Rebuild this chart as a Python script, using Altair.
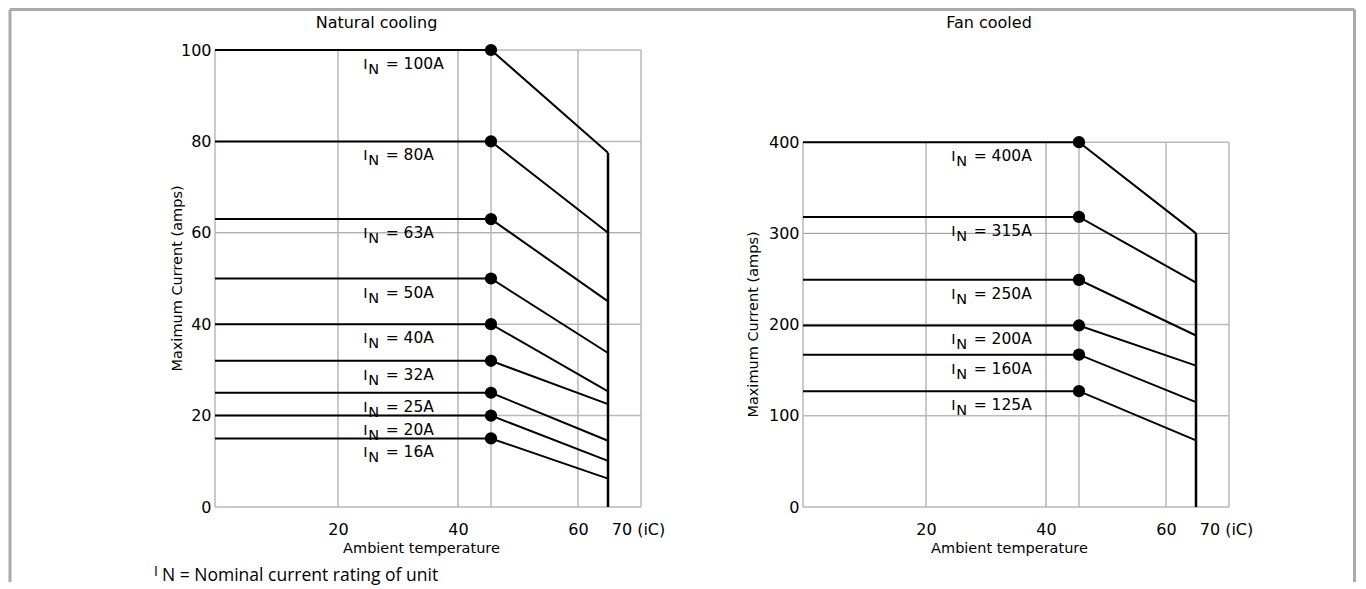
import altair as alt
import pandas as pd

# ---------------- data ----------------
nat_ratings = [100, 80, 63, 50, 40, 32, 25, 20, 16]          # I_N labels (A)
nat_levels = [100, 80, 63, 50, 40, 32, 25, 20, 15]           # plateau current
nat_at_cutoff = [77.5, 60, 45, 33.7, 25.3, 22.5, 14.5, 10.1, 6.2]

fan_ratings = [400, 315, 250, 200, 160, 125]
fan_levels = [400, 318, 249, 199, 167, 127]
fan_at_cutoff = [300, 246, 188, 155, 115, 73]

temp_start = -0.5
knee_temp = 45.5
cutoff_temp = 65
temp_max = 70.5

x_ticks = [20, 40, 60, 70]
x_grid = [20, 40, 45.5, 60]
nat_y_ticks = [0, 20, 40, 60, 80, 100]
fan_y_ticks = [0, 100, 200, 300, 400]

FONT = "DejaVu Sans"
GRID = "#b9b9b9"
GRID_DARK = "#8f8f8f"
PW, PH = 426, 457
NBSP = "\u00a0"


def panel(ratings, levels, ends, y_max, y_ticks, dark_y, title, title_x,
          ytitle_x, ytitle_y, extra=None):
    xs = alt.Scale(domain=[temp_start, temp_max], nice=False, zero=False)
    ys = alt.Scale(domain=[0, y_max], nice=False, zero=True)
    top = max(y_ticks)

    x_axis = alt.Axis(
        values=x_ticks, grid=False, domain=False, ticks=False,
        labelFlush=False, labelOverlap=False,
        labelFont=FONT, labelFontSize=16, labelColor="black", labelPadding=14,
        labelExpr="datum.value == 70 ? '" + NBSP * 9 + "70 (iC)' : datum.label",
        title="Ambient temperature", titleFont=FONT, titleFontSize=14.5,
        titleFontWeight="normal", titleColor="black",
        titleX=206, titleY=41, titleBaseline="middle", titleAlign="center",
    )
    y_axis = alt.Axis(
        values=y_ticks, grid=False, domain=False, ticks=False,
        labelOverlap=False, labelFlush=False,
        labelFont=FONT, labelFontSize=16, labelColor="black", labelPadding=4,
        title="Maximum Current (amps)", titleFont=FONT, titleFontSize=14.5,
        titleFontWeight="normal", titleColor="black", titleAngle=270,
        titleX=ytitle_x, titleY=ytitle_y, titleBaseline="middle",
        titleAlign="center",
    )

    def X():
        return alt.X("t:Q", scale=xs, axis=x_axis)

    def Y():
        return alt.Y("a:Q", scale=ys, axis=y_axis)

    rows = []
    for r, lv, e in zip(ratings, levels, ends):
        rows += [
            {"r": r, "o": 0, "t": temp_start, "a": lv},
            {"r": r, "o": 1, "t": knee_temp, "a": lv},
            {"r": r, "o": 2, "t": cutoff_temp, "a": e},
        ]
    lines_df = pd.DataFrame(rows)
    pts_df = pd.DataFrame({"t": [knee_temp] * len(levels), "a": levels,
                           "lab": [f"= {r}A" for r in ratings]})

    hgrid = pd.DataFrame({"a": [v for v in y_ticks if v not in dark_y],
                          "t": temp_start, "t1": temp_max})
    hgrid_d = pd.DataFrame({"a": dark_y, "t": temp_start, "t1": temp_max})
    vg = [v for v in x_grid if v != 40] + [temp_start, temp_max]
    vgrid = pd.DataFrame({"t": vg, "a": 0, "a1": top})
    vgrid_d = pd.DataFrame({"t": [40], "a": 0, "a1": top})

    g1 = alt.Chart(hgrid).mark_rule(color=GRID, strokeWidth=1.5).encode(
        x=X(), x2="t1:Q", y=Y())
    g2 = alt.Chart(hgrid_d).mark_rule(color=GRID_DARK, strokeWidth=1).encode(
        x=X(), x2="t1:Q", y=Y())
    g3 = alt.Chart(vgrid).mark_rule(color=GRID, strokeWidth=1.5).encode(
        x=X(), y=Y(), y2="a1:Q")
    g4 = alt.Chart(vgrid_d).mark_rule(color=GRID_DARK, strokeWidth=1).encode(
        x=X(), y=Y(), y2="a1:Q")

    lines = alt.Chart(lines_df).mark_line(color="black", strokeWidth=2).encode(
        x=X(), y=Y(), detail="r:N", order="o:Q")

    drop = alt.Chart(pd.DataFrame({"t": [cutoff_temp], "a": [0],
                                   "a1": [max(ends)]})).mark_rule(
        color="black", strokeWidth=2.5).encode(x=X(), y=Y(), y2="a1:Q")

    dots = alt.Chart(pts_df).mark_circle(color="black", size=150,
                                         opacity=1).encode(x=X(), y=Y())

    lab_df = pts_df.assign(t=24.2)
    lab_i = alt.Chart(lab_df).mark_text(
        text="I", font=FONT, fontSize=14.5, align="left",
        baseline="alphabetic", dy=19, color="black").encode(x=X(), y=Y())
    lab_n = alt.Chart(lab_df).mark_text(
        text="N", font=FONT, fontSize=14.5, align="left",
        baseline="alphabetic", dx=5, dy=24, color="black").encode(x=X(), y=Y())
    lab_v = alt.Chart(lab_df).mark_text(
        font=FONT, fontSize=15.5, align="left", baseline="alphabetic",
        dx=22.5, dy=19, color="black").encode(x=X(), y=Y(), text="lab:N")

    ttl = alt.Chart(pd.DataFrame({"s": [title]})).mark_text(
        font=FONT, fontSize=16, align="center", baseline="alphabetic",
        color="black").encode(text="s:N", x=alt.value(title_x),
                              y=alt.value(-22))

    layers = [g1, g2, g3, g4, lines, drop, dots, lab_i, lab_n, lab_v, ttl]
    if extra:
        layers += extra
    return alt.layer(*layers).properties(width=PW, height=PH)


one = pd.DataFrame({"k": [0]})
FRAME = "#aaaaaa"
FX0, FX1, FY0, FY1 = -205, 1139.5, -40.5, 532
frame_top = alt.Chart(one).mark_rule(color=FRAME, strokeWidth=3).encode(
    x=alt.value(FX0), x2=alt.value(FX1), y=alt.value(FY0))
frame_left = alt.Chart(one).mark_rule(color=FRAME, strokeWidth=3).encode(
    x=alt.value(FX0), y=alt.value(FY0), y2=alt.value(FY1))
frame_right = alt.Chart(one).mark_rule(color=FRAME, strokeWidth=3).encode(
    x=alt.value(FX1), y=alt.value(FY0), y2=alt.value(FY1))
foot_i = alt.Chart(pd.DataFrame({"s": ["I"]})).mark_text(
    font="Open Sans", fontSize=14, align="left", baseline="alphabetic",
    color="black").encode(text="s:N", x=alt.value(-61), y=alt.value(526))
foot = alt.Chart(pd.DataFrame({"s": ["N = Nominal current rating of unit"]})
                 ).mark_text(font="Open Sans", fontSize=17.5, align="left",
                             baseline="alphabetic", color="black").encode(
    text="s:N", x=alt.value(-53), y=alt.value(531))

left = panel(nat_ratings, nat_levels, nat_at_cutoff, 100, nat_y_ticks, [60],
             "Natural cooling", 161.5, -38, 228,
             extra=[frame_top, frame_left, frame_right, foot_i, foot])
right = panel(fan_ratings, fan_levels, fan_at_cutoff, 501, fan_y_ticks, [300],
              "Fan cooled", 186, -50, 274)

chart = alt.hconcat(left, right, spacing=162).properties(
    padding=0, bounds="flush", background="white"
).configure_view(stroke=None)

chart.save("out.html", embed_options={"renderer": "svg", "actions": False})
